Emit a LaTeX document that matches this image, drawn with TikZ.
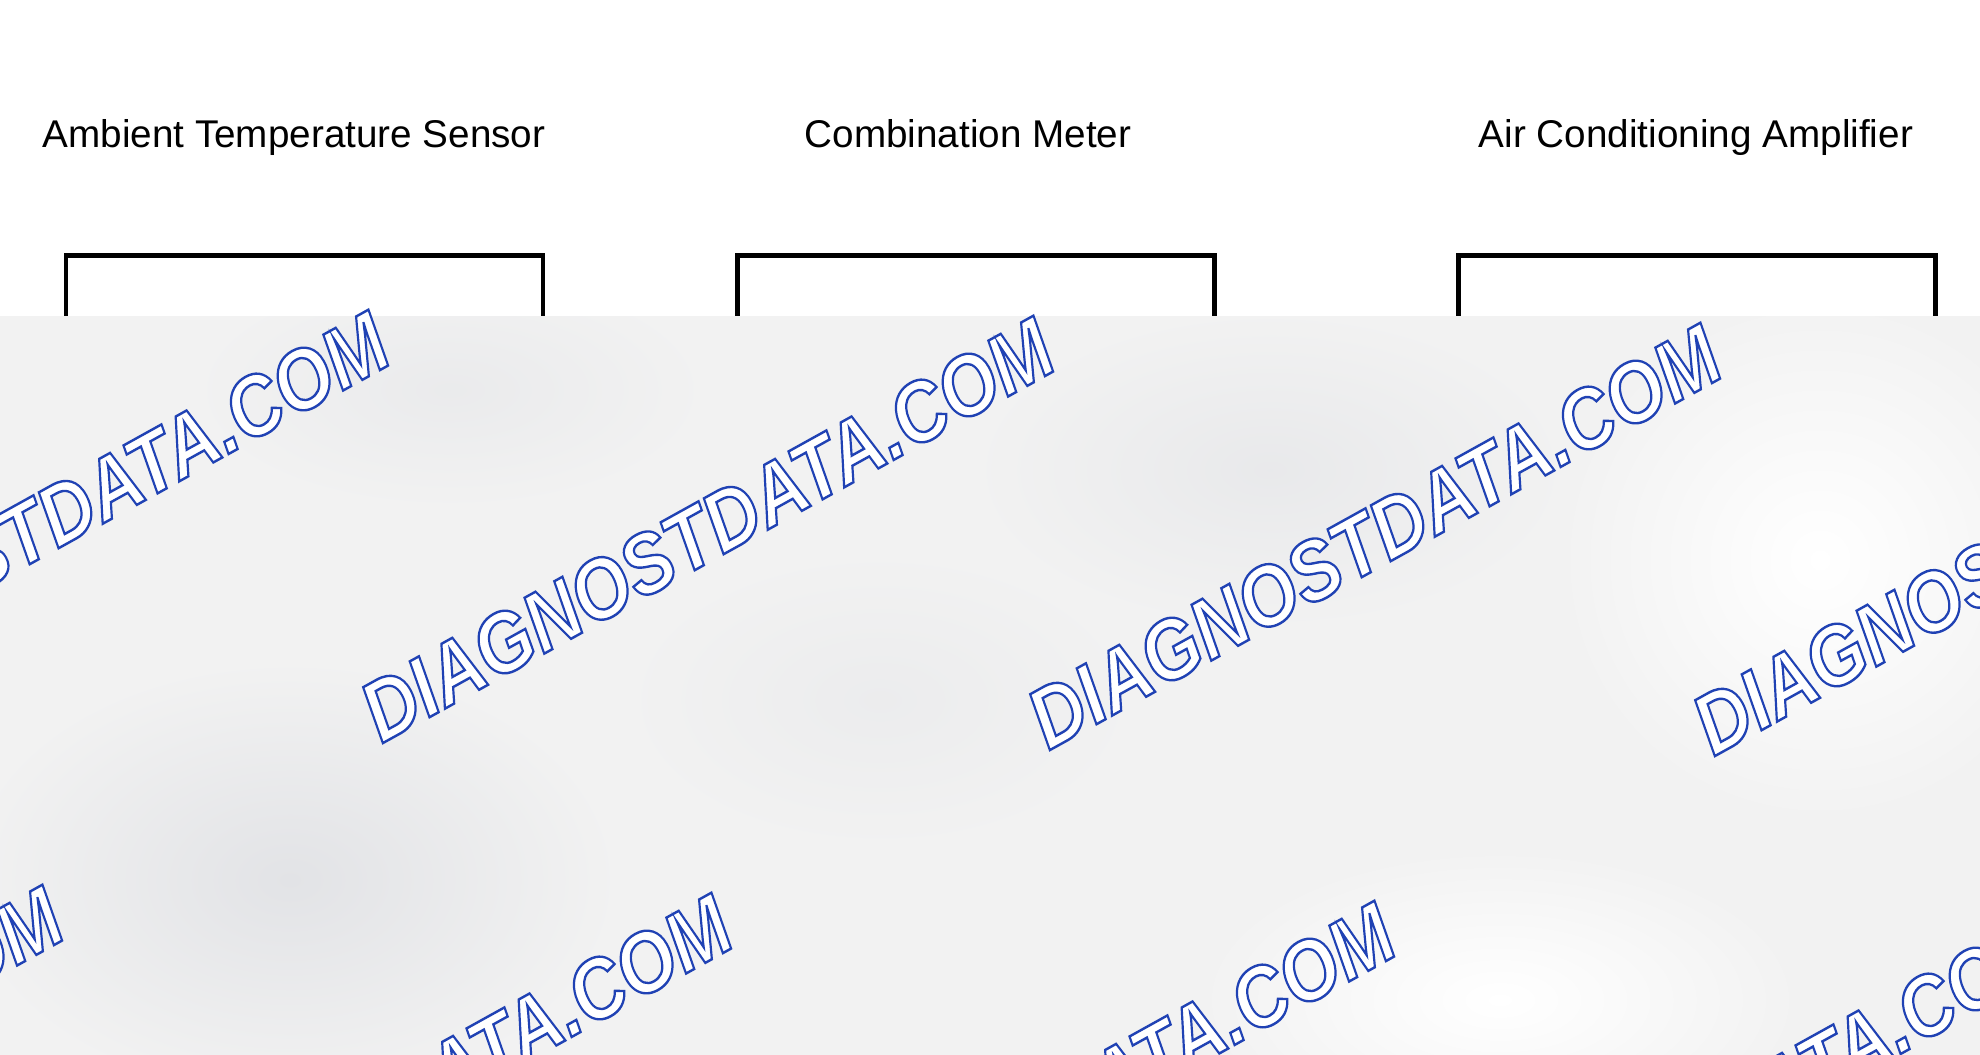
\documentclass[tikz,border=0pt]{standalone}
\usepackage{fontspec}
\setmainfont{Liberation Sans}

\definecolor{veil}{RGB}{242,242,242}
\definecolor{veildark}{RGB}{226,227,230}
\definecolor{wmblue}{RGB}{32,66,180}

% outlined watermark text (stroke blue, fill white)
\newcommand{\hollow}[1]{\special{pdf:literal direct 2 Tr 0.6 w 1 g}#1\special{pdf:literal direct 0 Tr}}

\begin{document}
\begin{tikzpicture}[x=0.1mm,y=-0.1mm,
		title/.style={font=\fontsize{11}{13}\selectfont, inner sep=0pt, anchor=base},
		unit/.style={draw, line width=1.4pt, minimum width=47.7mm, minimum height=40mm, anchor=north, inner sep=0pt},
		wmark/.style={font=\fontsize{21}{24}\selectfont\bfseries\itshape, text=wmblue, rotate=29, yscale=1.15, inner sep=0pt}]
		\useasboundingbox (0,0) rectangle (1980,1055);
		\clip (0,0) rectangle (1980,1055);
		\fill[white] (0,0) rectangle (1980,1055);
		
		% headings
		\node[title] (sensor) at (294,147) {Ambient Temperature Sensor};
		\node[title] (meter) at (968,147) {Combination Meter};
		\node[title] (amplifier) at (1696,147) {Air Conditioning Amplifier};
		
		% unit boxes
		\node[unit] (sensorbox) at (304.5,253) {};
		\node[unit] (meterbox) at (976,253) {};
		\node[unit] (amplifierbox) at (1697,253) {};
		
		% grey veil
		\begin{scope}
			\clip (0,316) rectangle (1980,1055);
			\fill[veil] (0,316) rectangle (1980,1055);
			\shade[inner color=veildark, outer color=veil] (290,880) ellipse [x radius=330, y radius=220];
			\shade[inner color=veildark!60!veil, outer color=veil] (1270,470) ellipse [x radius=300, y radius=160];
			\shade[inner color=veildark!50!veil, outer color=veil] (450,390) ellipse [x radius=260, y radius=120];
			\shade[inner color=veildark!40!veil, outer color=veil] (880,700) ellipse [x radius=260, y radius=150];
			\shade[inner color=white, outer color=veil] (1820,560) ellipse [x radius=260, y radius=260];
			\shade[inner color=white, outer color=veil] (1500,1000) ellipse [x radius=300, y radius=150];
		\end{scope}
		
		% watermark
		\foreach \cx/\cy [count=\i] in {42/524, 707/530, 1374/537, 2039/543, -284/1099, 385/1107, 1048/1115, 1714/1124}
		{
			\node[wmark] (wm\i) at (\cx,\cy) {\hollow{DIAGNOSTDATA.COM}};
		}
\end{tikzpicture}
\end{document}
